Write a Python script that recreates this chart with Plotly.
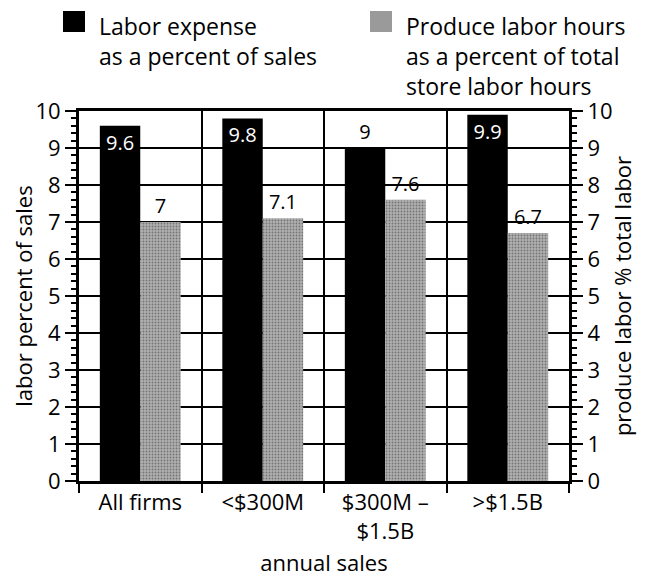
import plotly.graph_objects as go

categories = ["All firms", "<$300M", "$300M –<br>$1.5B", ">$1.5B"]
labor_expense = [9.6, 9.8, 9.0, 9.9]
produce_hours = [7.0, 7.1, 7.6, 6.7]
labor_pos = ["inside", "inside", "outside", "inside"]
legend_labels = ["Labor expense<br>as a percent of sales",
                 "Produce labor hours<br>as a percent of total<br>store labor hours"]

FONT = "Open Sans"
fs = 22

# plot area in figure pixels
L, R, T, B = 71, 561, 103, 473
W, H = 650, 581
def px(x):
    return (x - L) / (R - L)
def py(y):
    return (B - y) / (B - T)

fig = go.Figure()
fig.add_trace(go.Bar(
    x=categories, y=labor_expense, name=legend_labels[0],
    marker=dict(color="black", line=dict(width=0)),
    text=[f"{v:g}" for v in labor_expense], textposition=labor_pos,
    insidetextanchor="end", insidetextfont=dict(color="white", size=20, family=FONT),
    outsidetextfont=dict(color="black", size=20, family=FONT),
    textangle=0, constraintext="none", cliponaxis=False,
    offsetgroup="1", yaxis="y",
))
fig.add_trace(go.Bar(
    x=categories, y=produce_hours, name=legend_labels[1],
    marker=dict(color="#9c9c9c", line=dict(width=0),
                pattern=dict(shape=".", fgcolor="#383838", bgcolor="#b0b0b0",
                             size=3, solidity=0.3)),
    text=[f"{v:g}" for v in produce_hours], textposition="outside",
    outsidetextfont=dict(color="black", size=20, family=FONT),
    textangle=0, constraintext="none", cliponaxis=False,
    offsetgroup="2", yaxis="y2",
))

fig.update_layout(
    width=W, height=H,
    margin=dict(l=L, r=W - R, t=T, b=H - B, autoexpand=False),
    paper_bgcolor="white", plot_bgcolor="white",
    font=dict(family=FONT, size=fs, color="black"),
    barmode="group", bargap=0.34, bargroupgap=0,
    showlegend=False,
    xaxis=dict(
        tickson="boundaries", ticks="outside", ticklen=9, tickwidth=1.5, tickcolor="black",
        showgrid=True, gridcolor="black", gridwidth=1.5,
        showline=True, linecolor="black", linewidth=3, mirror=True,
        title=dict(text="annual sales", font=dict(size=fs), standoff=12),
        tickfont=dict(size=fs),
    ),
    yaxis=dict(
        range=[0, 10], dtick=1, ticks="outside", ticklen=11, tickwidth=1.5, tickcolor="black",
        minor=dict(dtick=0.2, ticks="outside", ticklen=5, tickcolor="black", showgrid=False),
        showgrid=True, gridcolor="black", gridwidth=1.5, zeroline=False,
        showline=True, linecolor="black", linewidth=3,
        title=dict(text="labor percent of sales", font=dict(size=fs), standoff=5),
        tickfont=dict(size=fs),
    ),
    yaxis2=dict(
        range=[0, 10], dtick=1, overlaying="y", side="right",
        ticks="outside", ticklen=11, tickwidth=1.5, tickcolor="black",
        minor=dict(dtick=0.2, ticks="outside", ticklen=5, tickcolor="black", showgrid=False),
        showgrid=False, zeroline=False,
        showline=True, linecolor="black", linewidth=3,
        title=dict(text="produce labor % total labor", font=dict(size=fs), standoff=5),
        tickfont=dict(size=fs),
    ),
)

# manual legend (figure pixel positions converted to paper coords)
fig.add_shape(type="rect", xref="paper", yref="paper",
              x0=px(55), x1=px(77), y0=py(3), y1=py(24),
              fillcolor="black", line=dict(width=0))
fig.add_shape(type="rect", xref="paper", yref="paper",
              x0=px(362), x1=px(384), y0=py(3), y1=py(24),
              fillcolor="#9a9a9a", line=dict(width=0))
fig.add_annotation(xref="paper", yref="paper", x=px(89), y=py(0),
                   xanchor="left", yanchor="top", align="left", showarrow=False,
                   text=legend_labels[0], font=dict(size=23, family=FONT))
fig.add_annotation(xref="paper", yref="paper", x=px(396), y=py(0),
                   xanchor="left", yanchor="top", align="left", showarrow=False,
                   text=legend_labels[1], font=dict(size=23, family=FONT))

fig.write_html("out.html")
